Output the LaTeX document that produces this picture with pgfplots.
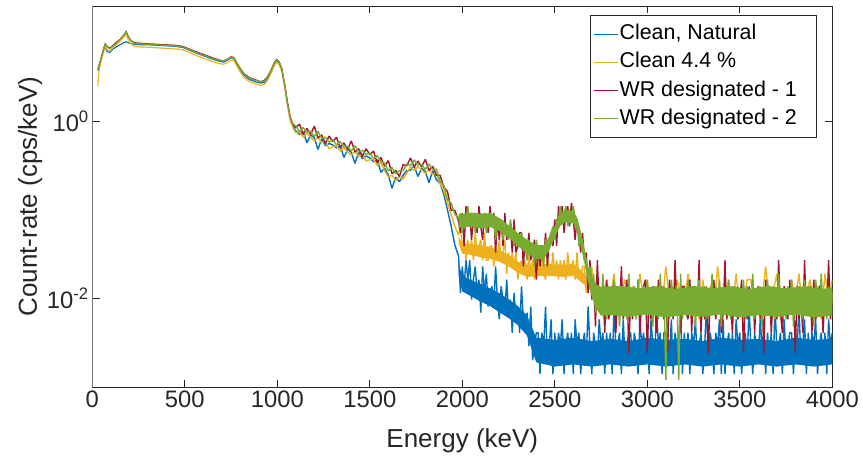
\documentclass[border=0pt]{standalone}
\usepackage{fontspec}
\setmainfont{Liberation Sans}
\usepackage{pgfplots}
\pgfplotsset{compat=1.18}
\definecolor{mblue}{rgb}{0,0.447,0.741}
\definecolor{myellow}{rgb}{0.929,0.694,0.125}
\definecolor{mred}{rgb}{0.635,0.078,0.184}
\definecolor{mgreen}{rgb}{0.466,0.674,0.188}
\definecolor{axgray}{rgb}{0.15,0.15,0.15}
\begin{document}
\begin{tikzpicture}
\useasboundingbox (-92.3pt,-72pt) rectangle (770.7pt,387pt);
\begin{axis}[at={(0pt,0pt)}, anchor=south west, scale only axis, width=740pt, height=381pt,
 xmin=0, xmax=4000, ymode=log, ymin=1e-3, ymax=20,
 xtick={0,500,...,4000}, ytick={0.01,1}, yticklabels={10\textsuperscript{-2},10\textsuperscript{0}},
 yminorticks=false, xminorticks=false,
 tick align=inside, tick pos=both, major tick length=7.5pt,
 axis line style={axgray, line width=0.8pt}, tick style={axgray, line width=0.8pt},
 tick label style={font=\fontsize{23.8}{28}\selectfont, text=axgray},
 /pgf/number format/assume math mode=true, /pgf/number format/set thousands separator={},
 xlabel={Energy (keV)}, ylabel={Count-rate (cps/keV)},
 label style={font=\fontsize{26}{30}\selectfont, text=axgray},
 xlabel style={at={(axis description cs:0.5,-0.142)}, anchor=center},
 ylabel style={at={(axis description cs:-0.084,0.5)}, anchor=center},
 legend style={at={(0.979,0.976)}, anchor=north east, draw=axgray, line width=0.6pt, fill=white,
   font=\fontsize{21.4}{25}\selectfont, inner xsep=3pt, inner ysep=8pt, row sep=7.1pt, column sep=1pt,
   nodes={inner sep=0.6pt, text height=15.5pt, text depth=4.5pt, text=black}},
 legend cell align=left,
 legend image code/.code={\draw[#1, line width=0.9pt] (0pt,0pt) -- (24pt,0pt);},
 smooth part/.style={line width=1.15pt},
 noisy part/.style={line width=1.4pt, line join=bevel, forget plot},
 core/.style={draw=none, fill=#1, forget plot},
]
% ---------------- Clean, Natural
\addplot[mblue, smooth part] coordinates {
(30,3.7)(40,4.4)(50,5.2)(60,6.2)(70,6.9)(80,6.1)(95,6.0)(110,6.5)(130,6.9)(150,7.3)(170,7.7)(183,7.9)(195,7.7)(210,7.5)(230,7.4)(260,7.3)(300,7.3)(350,7.2)(400,7.1)(450,7.0)(490,6.8)(520,6.4)(560,5.9)(600,5.5)(640,5.1)(680,4.8)(710,4.65)(730,4.9)(750,5.2)(765,5.1)(780,4.5)(800,3.8)(820,3.3)(850,2.95)(880,2.8)(910,2.7)(930,2.75)(950,3.1)(970,3.8)(985,4.5)(997,4.85)(1010,4.6)(1025,3.8)(1040,2.5)(1055,1.55)(1070,1.05)(1085,0.88)
};
\addlegendentry{Clean, Natural}
\addplot[core=mblue] coordinates {
(1980,.025)(2000,.018)(2050,.016)(2100,.0145)(2150,.013)(2200,.0115)(2250,.0098)(2300,.0082)(2350,.0064)(2400,.0036)(2500,.0034)(2600,.0036)(2700,.0033)(2800,.0035)(2900,.0033)(3000,.0036)(3100,.0034)(3200,.0035)(3300,.0033)(3400,.0036)(3500,.0034)(3600,.0035)(3700,.0033)(3800,.0036)(3900,.0034)(4000,.0035)
(4000,.0018)(3900,.0017)(3800,.0018)(3700,.0017)(3600,.0018)(3500,.0017)(3400,.0018)(3300,.0017)(3200,.0018)(3100,.0017)(3000,.0018)(2900,.0017)(2800,.0018)(2700,.0017)(2600,.0018)(2500,.0017)(2400,.0019)(2350,.0038)(2300,.005)(2250,.006)(2200,.007)(2150,.0082)(2100,.0092)(2050,.0105)(2000,.012)(1980,.018)
} -- cycle;
\addplot[mblue, noisy part] coordinates {
(1085,0.88)(1100,.78)(1120,.71)(1140,.76)(1160,.57)(1180,.70)(1200,.65)(1220,.48)(1240,.64)(1260,.53)(1280,.56)(1300,.54)(1320,.50)(1340,.53)(1360,.39)(1380,.48)(1400,.446)(1420,.335)(1440,.45)(1460,.377)(1480,.405)(1500,.386)(1520,.35)(1540,.367)(1560,.265)(1580,.296)(1600,.247)(1620,.175)(1640,.234)(1660,.207)(1680,.246)(1700,.277)(1720,.28)(1740,.314)(1760,.238)(1780,.294)(1800,.27)(1820,.203)(1840,.276)(1860,.22)(1880,.20)(1900,.15)(1920,.10)(1940,.065)(1960,.04)(1980,.03)
(1990,.0115)(2000,.023)(2010,.0137)(2020,.027)(2030,.0163)(2040,.027)(2050,.0097)(2060,.0163)(2070,.023)(2080,.0115)(2090,.0163)(2100,.0069)(2110,.023)(2120,.0115)(2130,.019)(2140,.0081)(2150,.0115)(2160,.0137)(2170,.0081)(2180,.023)(2190,.0097)(2200,.0058)(2210,.0137)(2220,.0097)(2230,.0069)(2240,.0163)(2250,.0069)(2260,.0097)(2270,.0041)(2280,.0115)(2290,.0058)(2300,.0081)(2310,.0041)(2320,.0137)(2330,.0058)(2340,.0048)(2350,.0069)(2360,.0029)(2370,.0081)
(2380,.0020)(2390,.0029)(2400,.0041)(2410,.0041)(2420,.0014)(2430,.0041)(2440,.0029)(2450,.0081)(2460,.0020)(2470,.0029)(2480,.0058)(2490,.0014)(2500,.0041)(2510,.0020)(2520,.0041)(2530,.0029)(2540,.0058)(2550,.0014)(2560,.0029)(2570,.0041)(2580,.0020)(2590,.0041)(2600,.0014)(2610,.0058)(2620,.0029)(2630,.0041)(2640,.0014)(2650,.0029)(2660,.0041)(2670,.0020)(2680,.0081)(2690,.0029)(2700,.0014)(2710,.0041)(2720,.0029)(2730,.0020)(2740,.0058)(2750,.0029)(2760,.0041)(2770,.0014)(2780,.0041)(2790,.0020)(2800,.0041)(2810,.0014)(2820,.0081)(2830,.0029)(2840,.0029)(2850,.0041)(2860,.0014)(2870,.0058)(2880,.0020)(2890,.0029)(2900,.0041)
(2910,.0041)(2920,.0020)(2930,.0041)(2940,.0029)(2950,.0014)(2960,.0058)(2970,.0029)(2980,.0041)(2990,.0020)(3000,.0041)(3010,.0014)(3020,.0058)(3030,.0029)(3040,.0020)(3050,.0081)(3060,.0029)(3070,.0041)(3080,.0014)(3090,.0041)(3100,.0041)(3110,.0029)(3120,.0020)(3130,.0058)(3140,.0014)(3150,.0041)(3160,.0029)(3170,.0029)(3180,.0081)(3190,.0014)(3200,.0041)(3210,.0020)(3220,.0041)(3230,.0014)(3240,.0041)(3250,.0029)(3260,.0058)(3270,.0020)(3280,.0029)(3290,.0041)(3300,.0014)(3310,.0029)(3320,.0081)(3330,.0020)(3340,.0041)(3350,.0029)(3360,.0014)(3370,.0041)(3380,.0029)(3390,.0058)(3400,.0014)
(3410,.0058)(3420,.0014)(3430,.0029)(3440,.0041)(3450,.0020)(3460,.0041)(3470,.0014)(3480,.0058)(3490,.0029)(3500,.0041)(3510,.0014)(3520,.0029)(3530,.0041)(3540,.0020)(3550,.0081)(3560,.0029)(3570,.0014)(3580,.0041)(3590,.0029)(3600,.0020)(3610,.0058)(3620,.0029)(3630,.0041)(3640,.0014)(3650,.0041)(3660,.0020)(3670,.0041)(3680,.0014)(3690,.0081)(3700,.0029)(3710,.0029)(3720,.0041)(3730,.0014)(3740,.0058)(3750,.0020)(3760,.0029)(3770,.0041)(3780,.0041)(3790,.0014)(3800,.0041)(3810,.0029)(3820,.0081)(3830,.0020)(3840,.0029)(3850,.0058)(3860,.0014)(3870,.0041)(3880,.0020)(3890,.0041)(3900,.0029)(3910,.0058)(3920,.0014)(3930,.0029)(3940,.0041)(3950,.0020)(3960,.0041)(3970,.0014)(3980,.0058)(3990,.0029)(4000,.0041)
};
% ---------------- Clean 4.4 %
\addplot[myellow, smooth part] coordinates {
(30,2.5)(35,3.4)(40,4.1)(50,5.0)(60,6.0)(70,7.0)(80,6.5)(95,6.2)(110,6.7)(130,7.3)(150,8.0)(170,8.9)(183,9.6)(195,8.2)(210,7.4)(230,7.0)(260,6.9)(300,6.85)(350,6.75)(400,6.65)(450,6.55)(490,6.4)(520,6.05)(560,5.55)(600,5.15)(640,4.8)(680,4.5)(710,4.4)(730,4.6)(750,4.9)(765,4.85)(780,4.25)(800,3.6)(820,3.1)(850,2.8)(880,2.65)(910,2.55)(930,2.6)(950,2.95)(970,3.6)(985,4.3)(997,4.6)(1010,4.35)(1025,3.6)(1040,2.4)(1055,1.5)(1070,1.0)(1085,0.84)
};
\addlegendentry{Clean 4.4 \%}
\addplot[core=myellow] coordinates {
(1980,.05)(2000,.042)(2050,.041)(2100,.04)(2150,.038)(2200,.035)(2250,.031)(2300,.026)(2350,.024)(2450,.0245)(2550,.024)(2600,.0245)(2640,.021)(2680,.017)(2720,.014)(2760,.012)(4000,.012)
(4000,.0085)(2760,.0085)(2720,.0105)(2680,.013)(2640,.0155)(2600,.018)(2550,.0175)(2450,.018)(2350,.0175)(2300,.0195)(2250,.023)(2200,.026)(2150,.028)(2100,.029)(2050,.031)(2000,.032)(1980,.042)
} -- cycle;
\addplot[myellow, noisy part] coordinates {
(1085,0.84)(1100,.74)(1120,.76)(1140,.66)(1160,.73)(1180,.66)(1200,.60)(1220,.66)(1240,.57)(1260,.59)(1280,.49)(1300,.515)(1320,.53)(1340,.46)(1360,.506)(1380,.45)(1400,.414)(1420,.458)(1440,.40)(1460,.418)(1480,.356)(1500,.367)(1520,.374)(1540,.318)(1560,.343)(1580,.275)(1600,.235)(1620,.245)(1640,.214)(1660,.234)(1680,.222)(1700,.26)(1720,.307)(1740,.278)(1760,.308)(1780,.282)(1800,.257)(1820,.284)(1840,.252)(1860,.257)(1880,.20)(1900,.165)(1920,.12)(1940,.088)(1960,.065)(1980,.052)
(1990,.065)(2000,.039)(2010,.046)(2020,.027)(2030,.046)(2040,.033)(2050,.046)(2060,.027)(2070,.055)(2080,.033)(2090,.039)(2100,.046)(2110,.027)(2120,.055)(2130,.027)(2140,.027)(2150,.039)(2160,.039)(2170,.023)(2180,.039)(2190,.027)(2200,.046)(2210,.027)(2220,.033)(2230,.046)(2240,.019)(2250,.033)(2260,.023)(2270,.033)(2280,.023)(2290,.033)(2300,.0163)(2310,.023)(2320,.027)(2330,.019)(2340,.027)(2350,.0163)(2360,.033)(2370,.019)(2380,.027)(2390,.0163)(2400,.023)(2410,.027)(2420,.019)(2430,.033)(2440,.019)(2450,.0163)(2460,.027)(2470,.023)(2480,.019)(2490,.033)(2500,.019)(2510,.027)(2520,.0163)(2530,.027)(2540,.019)(2550,.027)(2560,.0163)(2570,.033)(2580,.019)(2590,.023)(2600,.027)(2610,.0163)(2620,.033)(2630,.0163)(2640,.0163)(2650,.023)(2660,.023)(2670,.0115)(2680,.019)(2690,.0137)(2700,.023)(2710,.0115)(2720,.0137)(2730,.019)(2740,.0097)
(2760,.0081)(2780,.0163)(2800,.0097)(2820,.019)(2840,.0069)(2860,.0115)(2880,.0163)(2900,.0081)(2920,.0137)(2940,.0058)(2960,.019)(2980,.0097)(3000,.0163)(3020,.0069)(3040,.0115)(3060,.0137)(3080,.0081)(3100,.023)(3120,.0097)(3140,.0069)(3160,.0163)(3180,.0115)(3200,.0081)(3220,.019)(3240,.0097)(3260,.0137)(3280,.0058)(3300,.0163)(3320,.0081)(3340,.0137)(3360,.0069)(3380,.023)(3400,.0097)(3420,.0115)(3440,.0163)(3460,.0069)(3480,.019)(3500,.0081)(3520,.0097)(3540,.0163)(3560,.0163)(3580,.0069)(3600,.0137)(3620,.0097)(3640,.023)(3660,.0081)(3680,.0115)(3700,.019)(3720,.0058)(3740,.0137)(3760,.0081)(3780,.0163)(3800,.0097)(3820,.019)(3840,.0069)(3860,.0115)(3880,.0163)(3900,.0081)(3920,.0137)(3940,.0058)(3960,.019)(3980,.0097)(4000,.0163)
};
% ---------------- WR designated - 1
\addplot[mred, smooth part] coordinates {
(30,3.9)(40,4.5)(50,5.4)(60,6.5)(70,7.5)(80,7.0)(95,6.7)(110,7.1)(130,7.8)(150,8.4)(170,9.4)(183,10.3)(195,9.0)(210,8.1)(230,7.7)(260,7.6)(300,7.5)(350,7.4)(400,7.3)(450,7.2)(490,7.0)(520,6.6)(560,6.1)(600,5.7)(640,5.3)(680,4.95)(710,4.8)(730,5.0)(750,5.35)(765,5.25)(780,4.6)(800,3.95)(820,3.45)(850,3.1)(880,2.95)(910,2.8)(930,2.9)(950,3.25)(970,3.95)(985,4.65)(997,5.0)(1010,4.7)(1025,3.9)(1040,2.6)(1055,1.65)(1070,1.12)(1085,0.93)
};
\addlegendentry{WR designated - 1}
\addplot[mred, noisy part] coordinates {
(1085,0.93)(1100,.85)(1120,.93)(1140,.71)(1160,.83)(1180,.71)(1200,.88)(1220,.65)(1240,.70)(1260,.56)(1280,.68)(1300,.59)(1320,.66)(1340,.50)(1360,.57)(1380,.48)(1400,.60)(1420,.45)(1440,.49)(1460,.40)(1480,.49)(1500,.42)(1520,.46)(1540,.34)(1560,.39)(1580,.31)(1600,.36)(1620,.256)(1640,.278)(1660,.238)(1680,.325)(1700,.315)(1720,.385)(1740,.306)(1760,.356)(1780,.304)(1800,.372)(1820,.279)(1840,.31)(1860,.246)(1880,.246)(1900,.18)(1920,.161)(1940,.099)(1960,.099)(1980,.074)
(1990,.055)(2000,.092)(2010,.039)(2020,.11)(2030,.065)(2040,.092)(2050,.046)(2060,.078)(2070,.092)(2080,.055)(2090,.11)(2100,.065)(2110,.046)(2120,.092)(2130,.078)(2140,.055)(2150,.11)(2160,.065)(2170,.092)(2180,.033)(2190,.078)(2200,.046)(2210,.078)(2220,.039)(2230,.092)(2240,.046)(2250,.055)(2260,.065)(2270,.033)(2280,.078)(2290,.033)(2300,.039)(2310,.055)(2320,.055)(2330,.023)(2340,.046)(2350,.033)(2360,.055)(2370,.027)(2380,.033)(2390,.046)(2400,.0163)(2410,.039)(2420,.023)(2430,.039)(2440,.027)(2450,.055)(2460,.023)(2470,.046)(2480,.055)(2490,.039)(2500,.078)(2510,.039)(2520,.11)(2530,.078)(2540,.11)(2550,.055)(2560,.092)(2570,.11)(2580,.065)(2590,.12)(2600,.078)(2610,.046)(2620,.078)(2630,.055)(2640,.033)(2650,.055)(2660,.027)(2670,.033)(2680,.0115)(2690,.027)(2700,.0097)(2710,.0163)(2720,.0048)(2730,.027)(2740,.0081)(2750,.0097)(2760,.0137)(2770,.0041)(2780,.0163)(2790,.0058)(2800,.0069)(2810,.0137)(2820,.0137)(2830,.0041)(2840,.0115)(2850,.0069)(2860,.023)(2870,.0058)(2880,.0097)(2890,.0163)(2900,.0024)(2910,.0115)(2920,.0058)(2930,.0137)(2940,.0069)(2950,.0163)(2960,.0041)(2970,.0097)(2980,.0137)
(2990,.0163)(3000,.0024)(3010,.0115)(3020,.0058)(3030,.0137)(3040,.0097)(3050,.0041)(3060,.0163)(3070,.0069)(3080,.0137)(3090,.0058)(3100,.0115)(3110,.0024)(3120,.0163)(3130,.0097)(3140,.0058)(3150,.027)(3160,.0069)(3170,.0115)(3180,.0041)(3190,.0137)(3200,.0137)(3210,.0069)(3220,.0058)(3230,.0163)(3240,.0041)(3250,.0137)(3260,.0097)(3270,.0069)(3280,.027)(3290,.0041)(3300,.0115)(3310,.0058)(3320,.0137)(3330,.0024)(3340,.0115)(3350,.0069)(3360,.0163)(3370,.0058)(3380,.0097)(3390,.0137)(3400,.0041)(3410,.0069)(3420,.027)(3430,.0058)(3440,.0115)(3450,.0097)(3460,.0041)(3470,.0137)(3480,.0069)
(3490,.0058)(3500,.0097)(3510,.0163)(3520,.0024)(3530,.0115)(3540,.0058)(3550,.0137)(3560,.0069)(3570,.0163)(3580,.0041)(3590,.0097)(3600,.0137)(3610,.0058)(3620,.0115)(3630,.0024)(3640,.0163)(3650,.0069)(3660,.0137)(3670,.0041)(3680,.0097)(3690,.0115)(3700,.0058)(3710,.027)(3720,.0069)(3730,.0041)(3740,.0137)(3750,.0097)(3760,.0058)(3770,.0163)(3780,.0069)(3790,.0115)(3800,.0024)(3810,.0137)(3820,.0058)(3830,.0115)(3840,.0041)(3850,.027)(3860,.0069)(3870,.0097)(3880,.0137)(3890,.0041)(3900,.0163)(3910,.0058)(3920,.0069)(3930,.0137)(3940,.0137)(3950,.0041)(3960,.0115)(3970,.0069)(3980,.027)(3990,.0058)(4000,.0097)
};
% ---------------- WR designated - 2
\addplot[mgreen, smooth part] coordinates {
(30,3.9)(40,4.6)(50,5.3)(60,6.4)(70,7.4)(80,6.9)(95,6.6)(110,7.0)(130,7.6)(150,8.3)(170,9.3)(183,10.2)(195,8.9)(210,8.0)(230,7.6)(260,7.5)(300,7.4)(350,7.3)(400,7.2)(450,7.1)(490,6.9)(520,6.5)(560,6.0)(600,5.6)(640,5.2)(680,4.9)(710,4.8)(730,5.0)(750,5.3)(765,5.2)(780,4.6)(800,3.9)(820,3.4)(850,3.05)(880,2.9)(910,2.8)(930,2.85)(950,3.2)(970,3.9)(985,4.6)(997,4.95)(1010,4.7)(1025,3.9)(1040,2.6)(1055,1.6)(1070,1.1)(1085,0.92)
};
\addlegendentry{WR designated - 2\makebox[16pt]{}}
\addplot[core=mgreen] coordinates {
(1980,.088)(2050,.093)(2100,.09)(2150,.092)(2200,.081)(2250,.067)(2300,.055)(2350,.046)(2400,.04)(2440,.04)(2470,.05)(2500,.065)(2530,.09)(2560,.1)(2600,.097)(2620,.082)(2640,.058)(2660,.037)(2680,.023)(2700,.017)(2720,.0145)(2750,.0135)(2850,.0139)(2950,.013)(3050,.0137)(3150,.0128)(3250,.0138)(3350,.013)(3450,.0137)(3550,.0128)(3650,.0138)(3750,.013)(3850,.0137)(3950,.0128)(4000,.0133)
(4000,.0064)(3900,.0061)(3800,.0066)(3700,.0062)(3600,.0065)(3500,.0061)(3400,.0066)(3300,.0062)(3200,.0065)(3100,.0061)(3000,.0066)(2900,.0062)(2800,.0065)(2750,.0064)(2720,.0078)(2700,.0105)(2680,.0155)(2660,.025)(2640,.039)(2620,.058)(2600,.07)(2560,.073)(2530,.066)(2500,.049)(2470,.035)(2440,.028)(2400,.028)(2350,.032)(2300,.039)(2250,.049)(2200,.058)(2150,.064)(2100,.062)(2050,.065)(1980,.063)
} -- cycle;
\addplot[mgreen, noisy part] coordinates {
(1085,0.92)(1100,.89)(1120,.76)(1140,.85)(1160,.75)(1180,.77)(1200,.67)(1220,.77)(1240,.64)(1260,.66)(1280,.58)(1300,.62)(1320,.54)(1340,.59)(1360,.51)(1380,.52)(1400,.46)(1420,.53)(1440,.45)(1460,.47)(1480,.42)(1500,.44)(1520,.376)(1540,.41)(1560,.35)(1580,.337)(1600,.276)(1620,.30)(1640,.254)(1660,.278)(1680,.276)(1700,.33)(1720,.315)(1740,.367)(1760,.32)(1780,.326)(1800,.285)(1820,.33)(1840,.283)(1860,.288)(1880,.21)(1900,.19)(1920,.13)(1940,.119)(1960,.089)(1980,.08)
(1990,.092)(2000,.055)(2010,.078)(2020,.078)(2030,.11)(2040,.065)(2050,.078)(2060,.092)(2070,.055)(2080,.078)(2090,.065)(2100,.092)(2110,.078)(2120,.092)(2130,.055)(2140,.078)(2150,.092)(2160,.065)(2170,.078)(2180,.046)(2190,.078)(2200,.065)(2210,.078)(2220,.046)(2230,.065)(2240,.055)(2250,.046)(2260,.078)(2270,.055)(2280,.039)(2290,.055)(2300,.046)(2310,.039)(2320,.055)(2330,.039)(2340,.039)(2350,.027)(2360,.046)(2370,.033)(2380,.033)(2390,.023)(2400,.046)(2410,.033)(2420,.033)(2430,.039)(2440,.023)(2450,.046)(2460,.033)(2470,.046)(2480,.055)(2490,.065)(2500,.046)(2510,.078)(2520,.078)(2530,.11)(2540,.078)(2550,.092)(2560,.11)(2570,.065)(2580,.092)(2590,.078)(2600,.11)(2610,.078)(2620,.078)(2630,.039)(2640,.046)(2650,.046)(2660,.027)(2670,.027)(2680,.0163)(2690,.023)(2700,.0137)(2710,.019)(2720,.0069)(2730,.0115)(2740,.0137)(2750,.0069)(2760,.019)(2770,.0081)(2780,.0058)(2790,.0137)(2800,.0097)(2810,.0069)(2820,.0163)(2830,.0081)(2840,.0115)(2850,.0048)(2860,.0137)(2870,.0069)(2880,.0115)(2890,.0058)(2900,.019)(2910,.0081)(2920,.0097)(2930,.0137)(2940,.0058)(2950,.0163)(2960,.0069)(2970,.0081)(2980,.0137)
(2990,.0069)(3000,.0163)(3010,.0081)(3020,.0115)(3030,.0048)(3040,.0137)(3050,.0097)(3060,.0058)(3070,.019)(3080,.0081)(3090,.0137)(3100,.0012)(3110,.0115)(3120,.0058)(3130,.0163)(3140,.0097)(3150,.0069)(3160,.0137)(3170,.0012)(3180,.019)(3190,.0058)(3200,.0115)(3210,.0069)(3220,.0163)(3230,.0097)(3240,.0081)(3250,.0137)(3260,.0048)(3270,.0115)(3280,.0163)(3290,.0069)(3300,.0097)(3310,.0137)(3320,.0058)(3330,.0115)(3340,.0081)(3350,.019)(3360,.0069)(3370,.0137)(3380,.0081)(3390,.0163)(3400,.0048)(3410,.0115)(3420,.0097)(3430,.0069)(3440,.0163)(3450,.0058)(3460,.0137)(3470,.0115)(3480,.0069)
(3490,.0137)(3500,.0081)(3510,.0069)(3520,.0163)(3530,.0058)(3540,.0137)(3550,.0097)(3560,.0081)(3570,.019)(3580,.0058)(3590,.0115)(3600,.0069)(3610,.0137)(3620,.0048)(3630,.0115)(3640,.0081)(3650,.0163)(3660,.0069)(3670,.0097)(3680,.0137)(3690,.0058)(3700,.0081)(3710,.019)(3720,.0069)(3730,.0115)(3740,.0097)(3750,.0058)(3760,.0137)(3770,.0081)(3780,.0163)(3790,.0048)(3800,.0115)(3810,.0069)(3820,.0137)(3830,.0097)(3840,.0058)(3850,.0163)(3860,.0081)(3870,.0137)(3880,.0069)(3890,.0115)(3900,.0048)(3910,.0163)(3920,.0097)(3930,.0069)(3940,.019)(3950,.0081)(3960,.0115)(3970,.0058)(3980,.0137)(3990,.0081)(4000,.0115)
};
\draw[black!35, line width=1.2pt] (rel axis cs:0,0) -- (rel axis cs:0,1);
\end{axis}
\end{tikzpicture}
\end{document}
